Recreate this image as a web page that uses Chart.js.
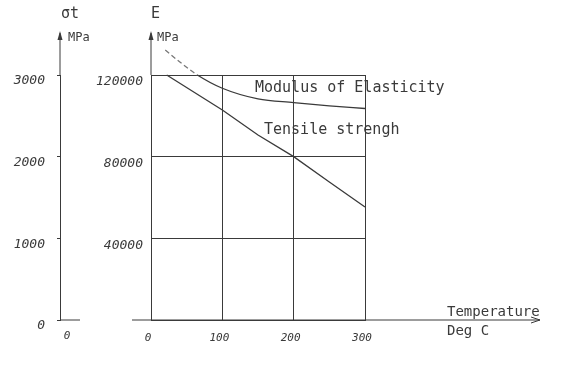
<!DOCTYPE html>
<html>
<head>
<meta charset="utf-8">
<script src="https://cdn.jsdelivr.net/npm/chart.js@4/dist/chart.umd.min.js"></script>
<style>
  html, body { margin: 0; padding: 0; background: #fff; }
  #wrap { width: 580px; height: 383px; position: relative; }
</style>
</head>
<body>
<div id="wrap"><canvas id="c" width="580" height="383"></canvas></div>
<script>
// ---- data ----
const temperatureTicks = [0, 100, 200, 300];
const sigmaTicks = [0, 1000, 2000, 3000];
const modulusTicks = [0, 40000, 80000, 120000];

const tensileTemp = [22, 100, 150, 200, 250, 300];
const tensileStrength = [3000, 2571, 2265, 2000, 1690, 1384];

const modulusTemp = [20, 40, 65, 100, 150, 200, 250, 300];
const modulusE = [132200, 126500, 120000, 113500, 108300, 106500, 104900, 103600];

const INK = '#3a3a3a';
const MONO = '"DejaVu Sans Mono", "Liberation Mono", monospace';

const decor = {
  id: 'decor',
  afterDraw(chart) {
    const ctx = chart.ctx;
    const yS = chart.scales.ySig;
    const yE = chart.scales.yE;
    const a = chart.chartArea;
    const xSig = yS.right;
    const xE = yE.right;
    const yBase = a.bottom;
    ctx.save();
    ctx.strokeStyle = INK;
    ctx.fillStyle = INK;
    ctx.lineWidth = 1;
    // vertical axis extensions with arrowheads
    [xSig, xE].forEach(x => {
      ctx.beginPath();
      ctx.moveTo(x, a.top);
      ctx.lineTo(x, 33);
      ctx.stroke();
      ctx.beginPath();
      ctx.moveTo(x, 31);
      ctx.lineTo(x - 2.5, 40);
      ctx.lineTo(x + 2.5, 40);
      ctx.closePath();
      ctx.fill();
    });
    // sigma baseline
    ctx.beginPath();
    ctx.moveTo(xSig, yBase);
    ctx.lineTo(xSig + 20, yBase);
    ctx.stroke();
    // x axis extension with arrow
    ctx.beginPath();
    ctx.moveTo(132, yBase);
    ctx.lineTo(540, yBase);
    ctx.moveTo(540, yBase);
    ctx.lineTo(531, yBase - 3);
    ctx.moveTo(540, yBase);
    ctx.lineTo(531, yBase + 3);
    ctx.stroke();

    ctx.textBaseline = 'middle';
    ctx.font = 'italic 11px ' + MONO;
    ctx.textAlign = 'center';
    ctx.fillText('0', xSig + 7, 336);
    ctx.textAlign = 'left';

    ctx.font = '15px ' + MONO;
    ctx.fillText('\u03C3t', 61, 14);
    ctx.fillText('E', 151, 14);
    ctx.font = '12px ' + MONO;
    ctx.fillText('MPa', xSig + 8, 38);
    ctx.fillText('MPa', xE + 6, 38);

    ctx.font = '15px ' + MONO;
    ctx.fillText('Modulus of Elasticity', 255, 88);
    ctx.fillText('Tensile strengh', 264, 130);
    ctx.font = '14px ' + MONO;
    ctx.fillText('Temperature', 447, 312);
    ctx.fillText('Deg C', 447, 331);
    ctx.restore();
  }
};

new Chart(document.getElementById('c'), {
  type: 'line',
  data: {
    datasets: [
      {
        label: 'Tensile strengh',
        data: tensileTemp.map((t, i) => ({ x: t, y: tensileStrength[i] })),
        yAxisID: 'ySig',
        borderColor: INK,
        borderWidth: 1.3,
        pointRadius: 0,
        fill: false,
        tension: 0,
        clip: false
      },
      {
        label: 'Modulus of Elasticity',
        data: modulusTemp.map((t, i) => ({ x: t, y: modulusE[i] })),
        yAxisID: 'yE',
        borderColor: INK,
        borderWidth: 1.3,
        pointRadius: 0,
        fill: false,
        cubicInterpolationMode: 'monotone',
        clip: false,
        segment: {
          borderDash: c => (c.p1.parsed.x <= 65 ? [5, 3] : undefined),
          borderColor: c => (c.p1.parsed.x <= 65 ? '#777' : INK)
        }
      }
    ]
  },
  options: {
    responsive: false,
    animation: false,
    devicePixelRatio: 1,
    layout: { padding: { top: 75, right: 215, left: 0, bottom: 0 } },
    plugins: { legend: { display: false }, tooltip: { enabled: false } },
    scales: {
      x: {
        type: 'linear',
        position: 'bottom',
        min: 0,
        max: 300,
        afterBuildTicks: s => { s.ticks = temperatureTicks.map(v => ({ value: v })); },
        afterFit: s => { s.height = 63; },
        grid: { color: INK, lineWidth: 1, drawTicks: false },
        border: { display: true, color: INK, width: 1 },
        ticks: {
          color: INK,
          font: { family: MONO, size: 11, style: 'italic' },
          padding: 12,
          labelOffset: -3,
          maxRotation: 0,
          callback: v => String(v)
        }
      },
      ySig: {
        type: 'linear',
        position: 'left',
        weight: 10,
        min: 0,
        max: 3000,
        afterBuildTicks: s => { s.ticks = sigmaTicks.map(v => ({ value: v })); },
        afterFit: s => { s.width = 60; },
        grid: { drawOnChartArea: false, drawTicks: true, tickLength: 3, tickColor: INK, color: INK },
        border: { display: true, color: INK, width: 1 },
        ticks: {
          color: INK,
          font: { family: MONO, size: 13, style: 'italic' },
          padding: 12,
          labelOffset: 6,
          callback: v => String(v)
        }
      },
      yE: {
        type: 'linear',
        position: 'left',
        weight: 0,
        min: 0,
        max: 120000,
        afterBuildTicks: s => { s.ticks = modulusTicks.map(v => ({ value: v })); },
        afterFit: s => { s.width = 91; },
        grid: { color: INK, lineWidth: 1, drawTicks: false },
        border: { display: true, color: INK, width: 1 },
        ticks: {
          color: INK,
          font: { family: MONO, size: 13, style: 'italic' },
          padding: 8,
          labelOffset: 7,
          callback: v => (v === 0 ? '' : String(v))
        }
      }
    }
  },
  plugins: [decor]
});
</script>
</body>
</html>
